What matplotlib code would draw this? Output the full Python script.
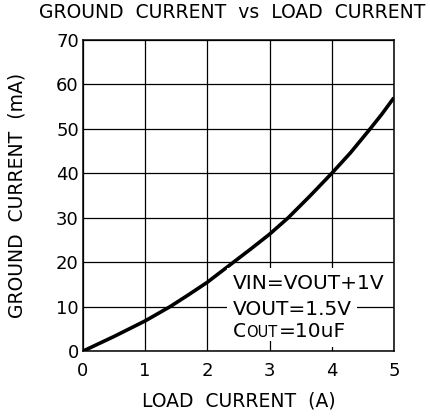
import matplotlib
matplotlib.use("Agg")
import matplotlib.pyplot as plt

# values
load_current = [0, 0.5, 1.0, 1.4, 1.7, 2.0, 2.42, 2.7, 3.0, 3.3, 3.65,
                4.0, 4.3, 4.6, 4.8, 5.0]
ground_current = [0, 3.3, 6.8, 10.0, 12.7, 15.5, 20.0, 23.0, 26.3, 30.0,
                  34.9, 40.0, 44.6, 49.7, 53.2, 57.0]

x_ticks = [0, 1, 2, 3, 4, 5]
y_ticks = [0, 10, 20, 30, 40, 50, 60, 70]

plt.rcParams.update({
    "font.family": "DejaVu Sans",
    "font.size": 13,
})

fig = plt.figure(figsize=(4.3, 4.17), dpi=100)
ax = fig.add_axes([0.193, 0.158, 0.723, 0.746])

ax.plot(load_current, ground_current, color="black", lw=2.6,
        solid_capstyle="butt", solid_joinstyle="round", zorder=3)

ax.set_xlim(0, 5)
ax.set_ylim(0, 70)
ax.set_xticks(x_ticks)
ax.set_yticks(y_ticks)
ax.tick_params(length=0, labelsize=13)
ax.tick_params(axis="x", pad=8)
ax.tick_params(axis="y", pad=3)
ax.grid(True, color="black", lw=0.9)
ax.set_axisbelow(True)
for sp in ax.spines.values():
    sp.set_linewidth(1.1)

ax.set_xlabel("LOAD  CURRENT  (A)", fontsize=13.5, labelpad=8)
ax.set_ylabel("GROUND  CURRENT  (mA)", fontsize=13.5, labelpad=21)
fig.text(0.54, 0.97, "GROUND  CURRENT  vs  LOAD  CURRENT",
         ha="center", va="center", fontsize=13.5)

# test conditions, white boxes hide the grid behind them
box = dict(facecolor="white", edgecolor="none", pad=4)
x0 = 2.41
ax.text(x0, 14.0, "VIN=VOUT+1V", fontsize=14.5, va="baseline", ha="left",
        bbox=box, zorder=4)
ax.text(x0, 8.1, "VOUT=1.5V", fontsize=14.5, va="baseline", ha="left",
        bbox=box, zorder=4)
c = ax.text(x0, 3.15, "C", fontsize=14.5, va="baseline", ha="left",
            bbox=box, zorder=4)
o = ax.annotate("OUT", xy=(1, 3.15), xycoords=(c, "data"), xytext=(-0.6, 0),
                textcoords="offset points", va="baseline", ha="left",
                fontsize=10.5, bbox=dict(facecolor="white", edgecolor="none",
                                         pad=0.5), zorder=5)
ax.annotate("=10uF", xy=(1, 3.15), xycoords=(o, "data"), xytext=(1.2, 0),
            textcoords="offset points", va="baseline", ha="left",
            fontsize=14.5, bbox=box, zorder=4)

fig.savefig("out.png", dpi=100)
